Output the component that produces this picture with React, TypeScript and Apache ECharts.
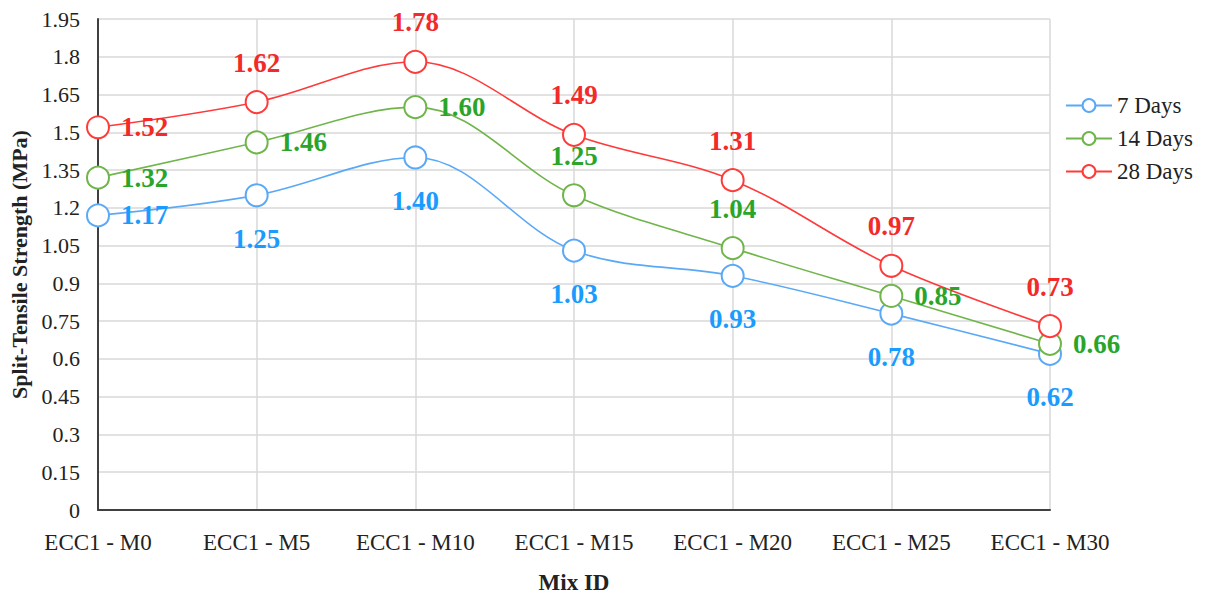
import React, { useEffect, useRef } from "react";
import * as echarts from "echarts";

const categories = ["ECC1 - M0", "ECC1 - M5", "ECC1 - M10", "ECC1 - M15", "ECC1 - M20", "ECC1 - M25", "ECC1 - M30"];
const days7 = [1.17, 1.25, 1.4, 1.03, 0.93, 0.78, 0.62];
const days14 = [1.32, 1.46, 1.6, 1.25, 1.04, 0.85, 0.66];
const days28 = [1.52, 1.62, 1.78, 1.49, 1.31, 0.97, 0.73];
const pos7 = ["right", "bottom", "bottom", "bottom", "bottom", "bottom", "bottom"];
const pos14 = ["right", "right", "right", "top", "top", "right", "right"];
const pos28 = ["right", "top", "top", "top", "top", "top", "top"];

const FONT = "'Liberation Serif', 'Times New Roman', serif";

function mk(values: number[], positions: string[], lineColor: string, labelColor: string, name: string) {
  return {
    name,
    type: "line",
    smooth: 0.35,
    symbol: "circle",
    symbolSize: 22,
    lineStyle: { color: lineColor, width: 1.6 },
    itemStyle: { color: "#ffffff", borderColor: lineColor, borderWidth: 2 },
    data: values.map((v, i) => ({
      value: v,
      label: {
        show: true,
        position: positions[i],
        distance: positions[i] === "right" ? 11 : positions[i] === "bottom" ? 18 : 14,
        formatter: (p: any) => Number(p.value).toFixed(2),
        color: labelColor,
        fontFamily: FONT,
        fontWeight: "bold",
        fontSize: 27,
      },
    })),
  };
}

export default function App() {
  const ref = useRef<HTMLDivElement>(null);
  useEffect(() => {
    const chart = echarts.init(ref.current!, null, { renderer: "svg" });
    chart.setOption({
      animation: false,
      backgroundColor: "#ffffff",
      textStyle: { fontFamily: FONT },
      legend: {
        orient: "vertical",
        left: 1060,
        top: 89,
        itemGap: 10,
        itemWidth: 46,
        itemHeight: 16,
        textStyle: { fontFamily: FONT, fontSize: 23, color: "#222" },
        data: ["7 Days", "14 Days", "28 Days"],
      },
      grid: { left: 98, right: 161, top: 19, bottom: 83 },
      xAxis: {
        type: "category",
        data: categories,
        boundaryGap: false,
        axisLine: { lineStyle: { color: "#404040", width: 2 } },
        axisTick: { show: false },
        axisLabel: { fontFamily: FONT, fontSize: 23, color: "#222", margin: 21 },
        splitLine: { show: true, lineStyle: { color: "#d9d9d9", width: 1.5 } },
        name: "Mix ID",
        nameLocation: "middle",
        nameGap: 61,
        nameTextStyle: { fontFamily: FONT, fontSize: 23, fontWeight: "bold", color: "#222" },
      },
      yAxis: {
        type: "value",
        min: 0,
        max: 1.95,
        interval: 0.15,
        axisLine: { show: true, lineStyle: { color: "#404040", width: 2 } },
        axisTick: { show: false },
        axisLabel: {
          fontFamily: FONT,
          fontSize: 22,
          color: "#222",
          margin: 18,
          formatter: (v: number) => String(parseFloat(v.toFixed(2))),
        },
        splitLine: { show: true, lineStyle: { color: "#d9d9d9", width: 1.5 } },
        name: "Split-Tensile Strength (MPa)",
        nameLocation: "middle",
        nameGap: 66,
        nameTextStyle: { fontFamily: FONT, fontSize: 22, fontWeight: "bold", color: "#222" },
      },
      series: [
        mk(days7, pos7, "#5aa9f7", "#1a9cff", "7 Days"),
        mk(days14, pos14, "#6fb54a", "#2aa52a", "14 Days"),
        mk(days28, pos28, "#ff3a3a", "#f22a2a", "28 Days"),
      ],
    });
    return () => chart.dispose();
  }, []);
  return <div ref={ref} style={{ position: "fixed", left: 0, top: 0, width: 1211, height: 599 }} />;
}
